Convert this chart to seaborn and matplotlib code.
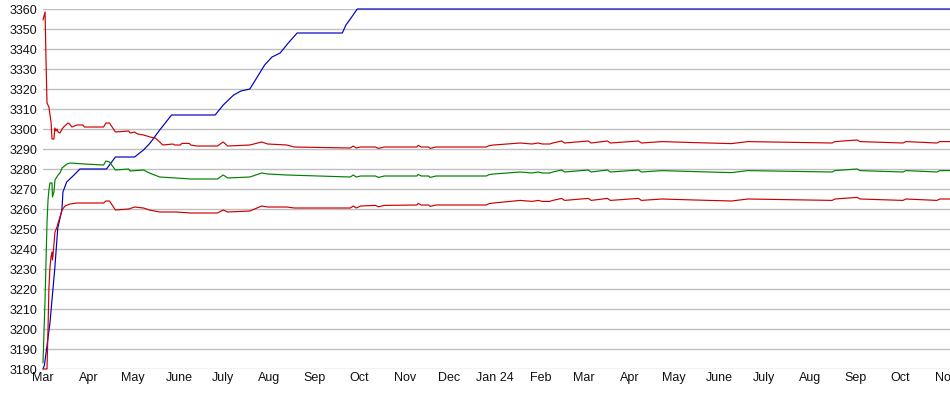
import pandas as pd
import numpy as np
import matplotlib
matplotlib.use("Agg")
import matplotlib.pyplot as plt
import seaborn as sns

# day offsets are counted from the first of March 2023
start = pd.Timestamp("2023-03-01")
end_day = 614.5

# blue: stepped rise up to the cap
blue_days = [0, 1, 4.7, 8, 10, 12.8, 13.5, 16, 21, 25, 43, 49, 62, 68, 72.5, 79, 87,
             116.5, 122, 129, 134, 140, 145, 150, 155, 160.5, 166, 172, 202.6, 205,
             208, 212.7, 614.5]
blue_vals = [3180, 3182, 3203, 3230.5, 3250.5, 3259.5, 3268.5, 3273.5, 3277, 3280, 3280,
             3286, 3286, 3289.5, 3293, 3299.5, 3307,
             3307, 3312, 3317, 3319, 3320, 3326, 3332, 3336, 3338, 3343, 3348, 3348, 3352,
             3355, 3360, 3360]

# upper red band
upper_days = [0, 1.4, 2, 2.7, 4, 5.5, 6.1, 7.4, 8, 8.8, 9.5, 10.2, 11.5, 12.9, 14, 16.9,
              18, 19.6, 23, 27, 28, 41, 42.6, 45, 49, 58, 59, 62, 64, 68, 72.5, 76, 79,
              81, 88, 89, 93, 94, 99, 100, 104, 118, 122, 125, 140, 148, 152, 165, 170,
              208, 210, 212, 215, 225, 227, 231, 253, 254, 256, 261, 262, 266, 300,
              302, 305, 323, 331, 335, 338, 343, 345, 351, 353, 369, 371, 382, 384, 403,
              405, 419, 441, 466, 477, 534, 536, 551, 553, 582, 584, 605, 607, 614.5]
upper_vals = [3354.5, 3358.5, 3336, 3313, 3311, 3303, 3295, 3295, 3300.5, 3299, 3300,
              3298.5, 3298, 3300, 3301, 3303, 3302.5, 3301, 3302, 3302, 3301, 3301, 3303,
              3303, 3298.5, 3299, 3298, 3298.5, 3297.5, 3297, 3296, 3295.5, 3293.5, 3292,
              3292.5, 3292, 3292, 3292.8, 3292.8, 3292, 3291.5, 3291.5, 3293.5, 3291.5,
              3292, 3293.5, 3292.5, 3292, 3291, 3290.5, 3291.5, 3290.5, 3291, 3291,
              3290.3, 3291, 3291, 3291.8, 3291, 3291, 3290.3, 3291, 3291, 3291.7, 3292,
              3293, 3292.5, 3293, 3292.5, 3292.5, 3293, 3294, 3293, 3294, 3293, 3294, 3293,
              3294, 3293, 3293.7, 3293.2, 3292.7, 3293.7, 3293, 3293.7, 3294.5, 3293.7,
              3293, 3293.7, 3293, 3293.7, 3293.7]

# green middle line
mid_days = [0, 1.4, 2.7, 3.4, 4, 4.7, 6.1, 6.4, 7.4, 8.1, 10.2, 11.5, 12.9, 16.2, 18.3,
            28, 41, 42.6, 45, 49, 58, 59, 68, 72, 79, 90, 100, 118, 122, 125, 140, 148,
            152, 165, 208, 210, 212, 215, 225, 227, 231, 253, 254, 256, 261, 262, 266,
            300, 302, 305, 323, 331, 335, 338, 343, 345, 351, 353, 369, 371, 382, 384,
            403, 405, 419, 441, 466, 477, 534, 536, 551, 553, 582, 584, 605, 607, 614.5]
mid_vals = [3183, 3215, 3253, 3264.5, 3269.5, 3273, 3273, 3266, 3268.5, 3274.5, 3277,
            3278, 3280.5, 3282.5, 3283, 3282.5, 3282, 3284, 3283.5, 3279.5, 3280, 3279,
            3279.5, 3278, 3276, 3275.5, 3275, 3275, 3277, 3275.5, 3276, 3278, 3277.5,
            3277, 3276, 3277, 3276, 3276.5, 3276.5, 3275.8, 3276.5, 3276.5, 3277.3,
            3276.5, 3276.5, 3275.8, 3276.5, 3276.5, 3277.2, 3277.5, 3278.5, 3278,
            3278.5, 3278, 3278, 3278.5, 3279.5, 3278.5, 3279.5, 3278.5, 3279.5, 3278.5,
            3279.5, 3278.5, 3279.2, 3278.7, 3278.2, 3279.2, 3278.5, 3279.2, 3280, 3279.2,
            3278.5, 3279.2, 3278.5, 3279.2, 3279.2]

# lower red band
lower_days = [0, 2.7, 3.4, 4, 4.7, 5.4, 6.1, 6.4, 6.8, 8.1, 9.5, 10.2, 11.5, 12.9, 14.9,
              18.3, 23, 41, 42.6, 45, 49, 58, 62, 68, 72, 79, 90, 100, 118, 122, 125,
              140, 148, 152, 165, 170, 208, 210, 212, 215, 225, 227, 231, 253, 254, 256,
              261, 262, 266, 300, 302, 305, 323, 331, 335, 338, 343, 345, 351, 353, 369,
              371, 382, 384, 403, 405, 419, 441, 466, 477, 534, 536, 551, 553, 582, 584,
              605, 607, 614.5]
lower_vals = [3180, 3180, 3200, 3220.5, 3230.5, 3236, 3238.5, 3234.5, 3237, 3248.5, 3251,
              3253, 3256, 3259.5, 3261.5, 3262.5, 3263, 3263, 3264, 3264, 3259.5, 3260,
              3261, 3260.5, 3259.5, 3258.5, 3258.5, 3258, 3258, 3259.5, 3258.5, 3259,
              3261.5, 3261, 3261, 3260.5, 3260.5, 3261.5, 3260.5, 3261.5, 3261.8, 3261.1,
              3261.8, 3262, 3262.8, 3262, 3262, 3261.3, 3262, 3262, 3262.7, 3263, 3264.3,
              3263.8, 3264.3, 3263.8, 3263.8, 3264.3, 3265.3, 3264.3, 3265.3, 3264.3,
              3265.3, 3264.3, 3265.3, 3264.3, 3265, 3264.5, 3264, 3265, 3264.3, 3265,
              3265.8, 3265, 3264.3, 3265, 3264.3, 3265, 3265]

month_ticks = ["2023-03-01", "2023-04-01", "2023-05-01", "2023-06-01", "2023-07-01",
               "2023-08-01", "2023-09-01", "2023-10-01", "2023-11-01", "2023-12-01",
               "2024-01-01", "2024-02-01", "2024-03-01", "2024-04-01", "2024-05-01",
               "2024-06-01", "2024-07-01", "2024-08-01", "2024-09-01", "2024-10-01",
               "2024-11-01"]
month_labels = ["Mar", "Apr", "May", "June", "July", "Aug", "Sep", "Oct", "Nov", "Dec",
                "Jan 24", "Feb", "Mar", "Apr", "May", "June", "July", "Aug", "Sep", "Oct",
                "Nov"]
y_ticks = list(range(3180, 3361, 10))

sns.set_style("white")
plt.rcParams["font.family"] = ["Liberation Sans", "DejaVu Sans"]

fig = plt.figure(figsize=(9.5, 3.95), dpi=100)
ax = fig.add_axes([43 / 950, 26 / 395, 907 / 950 + 0.001, 360 / 395])


def to_frame(days, vals):
    return pd.DataFrame({"date": start + pd.to_timedelta(days, unit="D"), "value": vals})


series = [
    (blue_days, blue_vals, "#0000c0"),
    (upper_days, upper_vals, "#cc0000"),
    (mid_days, mid_vals, "#008000"),
    (lower_days, lower_vals, "#cc0000"),
]
for days, vals, color in series:
    sns.lineplot(data=to_frame(days, vals), x="date", y="value", ax=ax, color=color,
                 linewidth=0.85, estimator=None, sort=False, clip_on=False, zorder=3)

ax.set_xlim(start, start + pd.Timedelta(days=end_day))
ax.set_ylim(3180, 3360)
ax.set_yticks(y_ticks)
ax.set_xticks(pd.to_datetime(month_ticks))
ax.set_xticklabels(month_labels)
ax.set_xlabel("")
ax.set_ylabel("")

ax.grid(axis="y", color="#c0c0c0", linewidth=1.0, zorder=0)
ax.grid(axis="x", visible=False)
for side in ["top", "right", "left", "bottom"]:
    ax.spines[side].set_visible(False)
ax.tick_params(axis="both", length=0, labelsize=9, colors="#111111")
ax.tick_params(axis="y", pad=4)
ax.tick_params(axis="x", pad=2)

fig.savefig("out.png", dpi=100)
